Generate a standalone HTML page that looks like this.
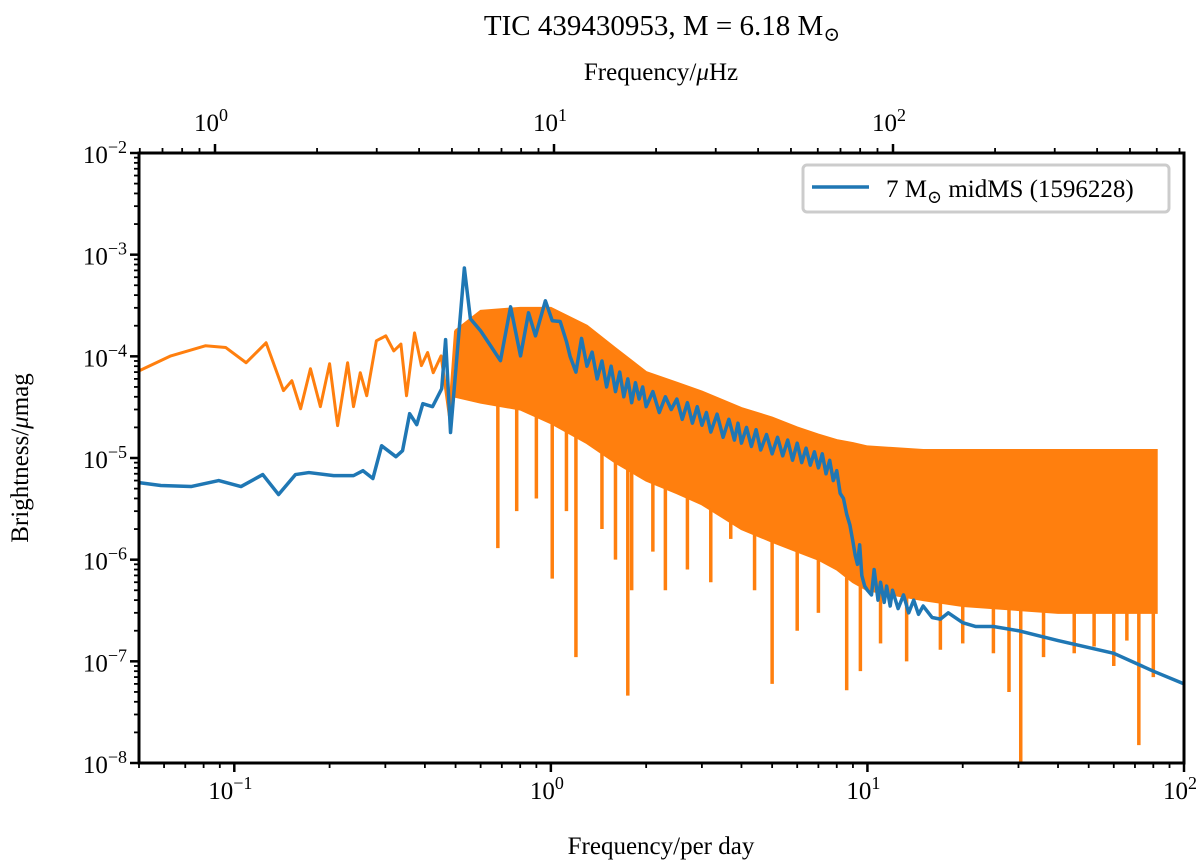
<!DOCTYPE html>
<html><head><meta charset="utf-8">
<style>
html,body{margin:0;padding:0;background:#fff;}
svg{display:block;font-family:"Liberation Serif","DejaVu Serif",serif;}
</style></head>
<body>
<svg id="chart" width="1200" height="867" viewBox="0 0 1200 867" style="position:absolute;left:0;top:0">
<g id="marks"></g>
<g id="axes"></g>
<text x="662" y="35" font-size="29" text-anchor="middle">TIC 439430953, M = 6.18 M<tspan dy="6" font-size="20">⊙</tspan></text>
<text x="661" y="80" font-size="25" text-anchor="middle">Frequency/<tspan font-style="italic">μ</tspan>Hz</text>
<text x="661" y="854" font-size="25" text-anchor="middle">Frequency/per day</text>
<text transform="translate(28,458) rotate(-90)" font-size="25" text-anchor="middle">Brightness/<tspan font-style="italic">μ</tspan>mag</text>
<g>
<rect x="803" y="165" width="366" height="47" rx="4" fill="#fff" fill-opacity="0.8" stroke="#ccc" stroke-width="3"/>
<line x1="812" y1="187" x2="869" y2="187" stroke="#1f77b4" stroke-width="3.5"/>
<text x="886" y="197" font-size="25">7 M<tspan dy="6" font-size="18">⊙</tspan><tspan dy="-6"> midMS (1596228)</tspan></text>
</g>
</svg>
<script>
// ---- data ----
const blueFreq = [0.05,0.0586,0.073,0.0893,0.105,0.123,0.138,0.156,0.172,0.206,0.238,0.255,0.274,0.292,0.324,0.34,0.358,0.377,0.394,0.423,0.452,0.465,0.482,0.533,0.557,0.6,0.645,0.693,0.746,0.802,0.85,0.894,0.961,1.01,1.07,
 1.12,1.15,1.2,1.25,1.3,1.35,1.4,1.45,1.5,1.55,1.6,1.65,1.7,1.75,1.8,1.85,1.9,1.95,2.0,2.1,2.2,2.3,2.4,2.5,2.6,2.7,2.8,2.9,3.0,3.1,3.2,3.35,3.5,3.65,3.8,3.9,4.0,4.15,4.3,4.45,4.6,4.8,5.0,5.2,5.4,5.6,5.8,6.0,6.2,6.4,6.6,6.8,7.0,7.2,7.4,7.6,7.8,8.0,8.2,8.4,8.6,8.8,9.0,9.15,9.3,9.45,9.6,9.8,10,10.3,10.5,10.8,11,11.3,11.5,11.8,12,12.5,13,13.5,14,14.5,15,16,17,18,20,22,25,30,40,60,80,100];
const blueValue = [5.73e-6,5.36e-6,5.24e-6,6.0e-6,5.24e-6,6.87e-6,4.37e-6,6.87e-6,7.19e-6,6.71e-6,6.71e-6,7.5e-6,6.28e-6,1.32e-5,1.03e-5,1.18e-5,2.73e-5,2.13e-5,3.42e-5,3.2e-5,4.8e-5,1.46e-4,1.78e-5,7.4e-4,2.34e-4,1.78e-4,1.27e-4,9.06e-5,3.07e-4,1.01e-4,2.68e-4,1.59e-4,3.52e-4,2.24e-4,2.2e-4,
 1.4e-4,1e-4,7e-5,1.5e-4,8e-5,1.1e-4,6e-5,9e-5,5e-5,8e-5,4.5e-5,7e-5,4e-5,6e-5,3.5e-5,5.5e-5,3.8e-5,5e-5,3.2e-5,4.5e-5,2.8e-5,4e-5,3e-5,3.8e-5,2.4e-5,3.5e-5,2.2e-5,3.2e-5,2.1e-5,2.8e-5,1.8e-5,2.7e-5,1.6e-5,2.4e-5,1.5e-5,2.2e-5,1.4e-5,2e-5,1.3e-5,1.9e-5,1.2e-5,1.7e-5,1.1e-5,1.6e-5,1.05e-5,1.5e-5,9.5e-6,1.4e-5,9e-6,1.25e-5,8.5e-6,1.15e-5,8e-6,1.1e-5,7e-6,9.5e-6,6e-6,7.5e-6,4.5e-6,4e-6,2.8e-6,2.2e-6,1.5e-6,1.1e-6,9e-7,1.4e-6,7e-7,5.5e-7,5e-7,4.5e-7,8e-7,4e-7,6e-7,3.8e-7,5.5e-7,3.5e-7,5e-7,3.3e-7,4.5e-7,3e-7,4e-7,2.9e-7,3.5e-7,2.7e-7,2.6e-7,3e-7,2.4e-7,2.2e-7,2.2e-7,2e-7,1.6e-7,1.2e-7,8e-8,6e-8,5e-8];
const orangeLowFreq = [0.05,0.063,0.081,0.094,0.109,0.126,0.143,0.152,0.162,0.174,0.187,0.2,0.212,0.228,0.238,0.25,0.262,0.281,0.301,0.319,0.336,0.35,0.371,0.39,0.408,0.425,0.45,0.478,0.5];
const orangeLowValue = [7.2e-5,1.01e-4,1.27e-4,1.22e-4,8.65e-5,1.36e-4,4.6e-5,5.75e-5,3.05e-5,7.55e-5,3.2e-5,8.45e-5,2.08e-5,8.65e-5,3.2e-5,6.9e-5,4.1e-5,1.42e-4,1.59e-4,1.13e-4,1.32e-4,4.1e-5,1.7e-4,8.1e-5,1.09e-4,6.9e-5,1.01e-4,2.6e-5,1.78e-4];
const bandFreq = [0.5,0.6,0.8,1.0,1.3,1.6,2,2.5,3,4,5,6,7,8,9,10,15,20,40,60,82];
const bandUpper = [1.8e-4,2.8e-4,3e-4,3e-4,2e-4,1.2e-4,7e-5,5.5e-5,4.5e-5,3.1e-5,2.5e-5,2e-5,1.7e-5,1.5e-5,1.4e-5,1.3e-5,1.2e-5,1.2e-5,1.2e-5,1.2e-5,1.2e-5];
const bandLower = [4e-5,3.5e-5,3e-5,2.2e-5,1.4e-5,9e-6,6e-6,4.5e-6,3.5e-6,2e-6,1.5e-6,1.2e-6,1e-6,8e-7,6e-7,5e-7,4e-7,3.5e-7,3e-7,3e-7,3e-7];
const dipFreq = [0.68,0.78,0.9,1.01,1.12,1.2,1.45,1.6,1.75,1.8,2.1,2.3,2.7,3.2,3.7,4.4,5.0,6,7,8.6,9.5,11,13.3,17,20,25,28,30.5,36,45,52,60,66,72,80];
const dipValue = [1.3e-6,3e-6,4e-6,6.5e-7,3e-6,1.1e-7,2e-6,1e-6,4.6e-8,5e-7,1.2e-6,5e-7,8e-7,6e-7,1.6e-6,5e-7,6e-8,2e-7,3e-7,5.2e-8,8e-8,1.5e-7,1e-7,1.3e-7,1.5e-7,1.2e-7,5e-8,1e-8,1.1e-7,1.2e-7,1.4e-7,9e-8,1.6e-7,1.5e-8,7e-8];
const xTickVals=[0.1,1,10,100], xTickExp = ["−1","0","1","2"];
const yTickVals = [1e-2,1e-3,1e-4,1e-5,1e-6,1e-7,1e-8], yTickExp=["−2","−3","−4","−5","−6","−7","−8"];
const topTickVals = [1,10,100], topTickExp=["0","1","2"];

// ---- axes ----
const L=139,R=1184,T=153,B=763;
const xmin=Math.log10(0.05),xmax=2,ymin=-8,ymax=-2;
const X=f=>L+(Math.log10(f)-xmin)/(xmax-xmin)*(R-L);
const Y=v=>B-(Math.log10(v)-ymin)/(ymax-ymin)*(B-T);
const topMin=-0.2242, topMax=2.8584; // log10 µHz at left/right edges
const TX=u=>L+(Math.log10(u)-topMin)/(topMax-topMin)*(R-L);
const NS="http://www.w3.org/2000/svg";
function mk(tag,attrs,parent){const e=document.createElementNS(NS,tag);for(const k in attrs)e.setAttribute(k,attrs[k]);parent.appendChild(e);return e;}
const marks=document.getElementById('marks'), axes=document.getElementById('axes');

let pts=[];
for(let i=0;i<bandFreq.length;i++)pts.push(X(bandFreq[i])+','+Y(bandUpper[i]));
for(let i=bandFreq.length-1;i>=0;i--)pts.push(X(bandFreq[i])+','+Y(bandLower[i]));
const band=mk('polygon',{points:pts.join(' '),fill:'#ff7f0e',stroke:'#ff7f0e','stroke-width':2},marks);


const ol=mk('polyline',{points:orangeLowFreq.map((f,i)=>X(f)+','+Y(orangeLowValue[i])).join(' '),fill:'none',stroke:'#ff7f0e','stroke-width':3,'stroke-linejoin':'round'},marks);


function interp(f,arr){for(let i=0;i<bandFreq.length-1;i++){if(f>=bandFreq[i]&&f<=bandFreq[i+1]){const t=(Math.log10(f)-Math.log10(bandFreq[i]))/(Math.log10(bandFreq[i+1])-Math.log10(bandFreq[i]));return Math.pow(10,Math.log10(arr[i])*(1-t)+Math.log10(arr[i+1])*t);}}return arr[arr.length-1];}
dipFreq.forEach((f,i)=>{
  const d=mk('line',{x1:X(f),x2:X(f),y1:Y(interp(f,bandLower)),y2:Y(dipValue[i]),stroke:'#ff7f0e','stroke-width':3.5},marks);
  
  
});
const bl=mk('polyline',{points:blueFreq.map((f,i)=>X(f)+','+Y(blueValue[i])).join(' '),fill:'none',stroke:'#1f77b4','stroke-width':3.5,'stroke-linejoin':'round'},marks);



const fr=mk('rect',{x:L,y:T,width:R-L,height:B-T,fill:'none',stroke:'#000','stroke-width':3},axes);



for(let d=-2;d<=2;d++)for(let m=1;m<10;m++){const f=m*Math.pow(10,d);if(f<0.05-1e-9||f>100+1e-9)continue;const x=X(f);
  mk('line',{x1:x,x2:x,y1:B,y2:B+(m==1?9:5),stroke:'#000','stroke-width':m==1?2.5:1.8},axes);}
xTickVals.forEach((v,i)=>{const t=mk('text',{x:X(v)-4,y:B+36,'font-size':25,'text-anchor':'middle'},axes);t.innerHTML='10<tspan dy="-10" font-size="18">'+xTickExp[i]+'</tspan>';
  
  });
for(let d=-1;d<=3;d++)for(let m=1;m<10;m++){const u=m*Math.pow(10,d);const lu=Math.log10(u);if(lu<topMin||lu>topMax)continue;const x=TX(u);
  mk('line',{x1:x,x2:x,y1:T,y2:T-(m==1?9:5),stroke:'#000','stroke-width':m==1?2.5:1.8},axes);}
topTickVals.forEach((u,i)=>{const t=mk('text',{x:TX(u)-4,y:T-22,'font-size':25,'text-anchor':'middle'},axes);t.innerHTML='10<tspan dy="-10" font-size="18">'+topTickExp[i]+'</tspan>';
  
  });
for(let d=-8;d<=-2;d++)for(let m=1;m<10;m++){const v=m*Math.pow(10,d);if(v>1e-2+1e-12)continue;const y=Y(v);
  mk('line',{x1:L,x2:L-(m==1?9:5),y1:y,y2:y,stroke:'#000','stroke-width':m==1?2.5:1.8},axes);}
yTickVals.forEach((v,i)=>{const t=mk('text',{x:L-12,y:Y(v)+10,'font-size':25,'text-anchor':'end'},axes);t.innerHTML='10<tspan dy="-10" font-size="18">'+yTickExp[i]+'</tspan>';
  
  });
</script>
</body></html>
